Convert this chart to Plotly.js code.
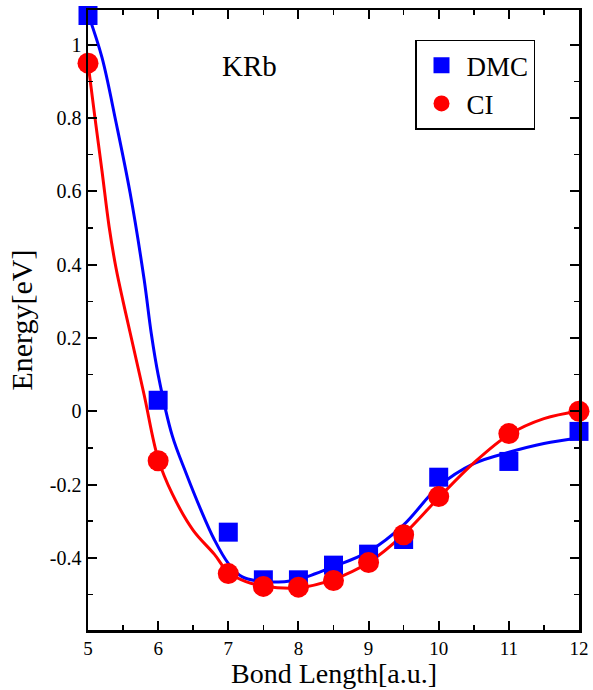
<!DOCTYPE html>
<html>
<head>
<meta charset="utf-8">
<script src="https://cdn.plot.ly/plotly-3.0.1.min.js"></script>
<style>html,body{margin:0;padding:0;background:#fff;}#chart{width:593px;height:690px;}</style>
</head>
<body>
<div id="chart"></div>
<script>
// Data points
const bondLength = [5, 6, 7, 7.5, 8, 8.5, 9, 9.5, 10, 11, 12];
const dmcEnergy = [1.08, 0.03, -0.33, -0.46, -0.46, -0.42, -0.39, -0.35, -0.18, -0.137, -0.055];
const ciEnergy = [0.95, -0.135, -0.443, -0.478, -0.48, -0.462, -0.413, -0.337, -0.233, -0.061, 0.0];

// Fitted curves
const dmcFitX = [5.0, 5.2, 5.4, 5.6, 5.8, 5.9, 6.0, 6.2, 6.4, 6.6, 6.8, 7.0, 7.2, 7.5, 7.8, 8.0, 8.5, 9.0, 9.5, 10.0, 10.5, 11.0, 11.5, 12.0];
const dmcFitY = [1.085, 0.965, 0.788, 0.596, 0.36, 0.215, 0.10, -0.066, -0.17, -0.265, -0.35, -0.415, -0.452, -0.465, -0.465, -0.459, -0.424, -0.383, -0.31, -0.205, -0.143, -0.112, -0.088, -0.073];
const ciFitX = [5.0, 5.1, 5.2, 5.3, 5.4, 5.5, 5.6, 5.8, 6.0, 6.2, 6.5, 6.8, 7.0, 7.25, 7.5, 8.0, 8.5, 9.0, 9.5, 10.0, 10.5, 11.0, 11.5, 12.0];
const ciFitY = [0.95, 0.80, 0.655, 0.505, 0.39, 0.30, 0.215, 0.045, -0.13, -0.225, -0.325, -0.39, -0.44, -0.465, -0.477, -0.482, -0.459, -0.413, -0.336, -0.236, -0.141, -0.064, -0.02, 0.0];

// Tick labels
const xTickVals = [5, 6, 7, 8, 9, 10, 11, 12];
const xTickText = ['5', '6', '7', '8', '9', '10', '11', '12'];
const yTickVals = [-0.4, -0.2, 0, 0.2, 0.4, 0.6, 0.8, 1];
const yTickText = ['-0.4', '-0.2', '0', '0.2', '0.4', '0.6', '0.8', '1'];

const FONT = 'Liberation Serif, Times New Roman, serif';
const BLUE = '#0000ff';
const RED = '#ff0000';

const traces = [
  {x: dmcFitX, y: dmcFitY, mode: 'lines', line: {color: BLUE, width: 3, shape: 'spline', smoothing: 1}, showlegend: false, hoverinfo: 'skip'},
  {x: ciFitX, y: ciFitY, mode: 'lines', line: {color: RED, width: 3, shape: 'spline', smoothing: 1}, showlegend: false, hoverinfo: 'skip'},
  {x: bondLength, y: dmcEnergy, mode: 'markers', name: 'DMC', cliponaxis: false,
   marker: {symbol: 'square', size: 19, color: BLUE}},
  {x: bondLength, y: ciEnergy, mode: 'markers', name: 'CI', cliponaxis: false,
   marker: {symbol: 'circle', size: 21, color: RED}}
];

const axisCommon = {
  showline: true, linecolor: '#000', linewidth: 2.5, mirror: 'ticks',
  ticks: 'inside', ticklen: 9, tickwidth: 2, tickcolor: '#000',
  showgrid: false, zeroline: false,
  tickfont: {family: FONT, size: 20, color: '#000'}
};

const layout = {
  width: 593, height: 690,
  margin: {l: 88, r: 14, t: 10, b: 60},
  paper_bgcolor: '#fff', plot_bgcolor: '#fff',
  font: {family: FONT, color: '#000'},
  xaxis: Object.assign({}, axisCommon, {
    range: [5, 12], tickmode: 'array', tickvals: xTickVals, ticktext: xTickText,
    tickfont: {family: FONT, size: 19, color: '#000'},
    minor: {dtick: 0.5, ticks: 'inside', ticklen: 5, tickwidth: 1.5, tickcolor: '#000', showgrid: false}
  }),
  yaxis: Object.assign({}, axisCommon, {
    range: [-0.597, 1.095], tickmode: 'array', tickvals: yTickVals, ticktext: yTickText,
    minor: {dtick: 0.1, tick0: 0, ticks: 'inside', ticklen: 5, tickwidth: 1.5, tickcolor: '#000', showgrid: false},
    title: {text: 'Energy[eV]', font: {family: FONT, size: 30, color: '#000'}, standoff: 9}
  }),
  legend: {
    x: 0.666, y: 0.952, xanchor: 'left', yanchor: 'top',
    bordercolor: '#000', borderwidth: 1.5, bgcolor: '#fff',
    font: {family: FONT, size: 27, color: '#000'},
    tracegroupgap: 0, itemwidth: 40
  },
  annotations: [
    {text: 'KRb', xref: 'paper', yref: 'paper', x: 0.328, y: 0.91, xanchor: 'center', yanchor: 'middle',
     showarrow: false, font: {family: FONT, size: 29, color: '#000'}},
    {text: 'Bond Length[a.u.]', xref: 'paper', yref: 'paper', x: 0.5, y: -0.07, xanchor: 'center', yanchor: 'middle',
     showarrow: false, font: {family: FONT, size: 28, color: '#000'}}
  ]
};

Plotly.newPlot('chart', traces, layout, {displayModeBar: false, staticPlot: true});
</script>
</body>
</html>
